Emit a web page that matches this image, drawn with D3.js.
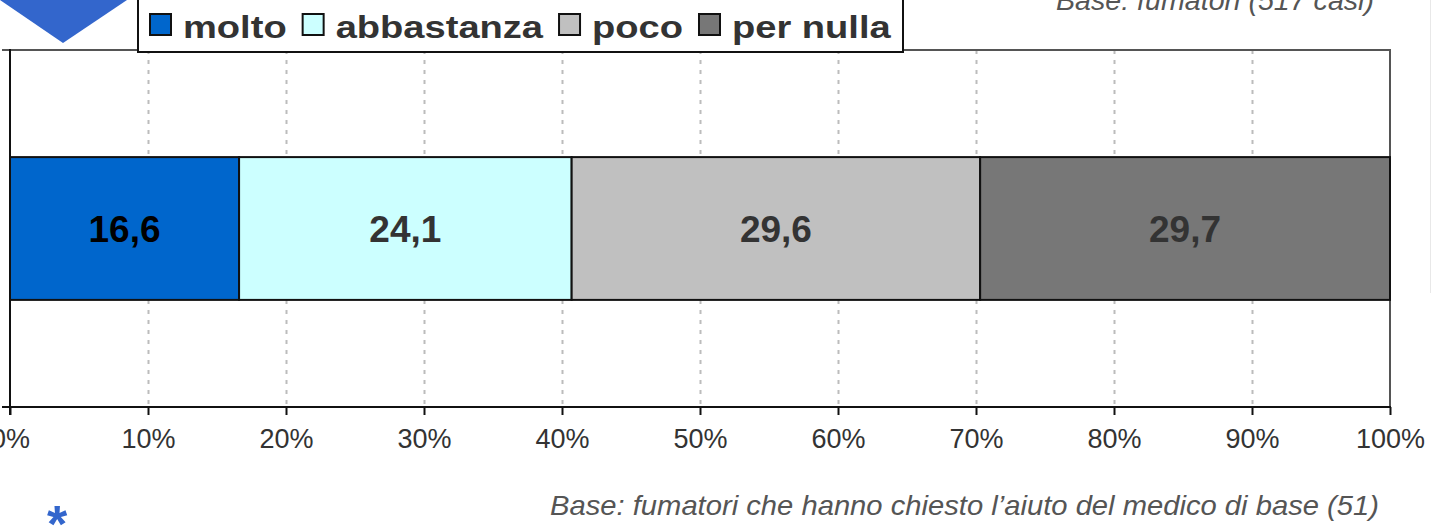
<!DOCTYPE html>
<html>
<head>
<meta charset="utf-8">
<script src="https://cdn.jsdelivr.net/npm/d3@7"></script>
<style>
  html, body { margin: 0; padding: 0; background: #fff; overflow: hidden; }
  svg { display: block; font-family: Arial, "Liberation Sans", sans-serif; }
</style>
</head>
<body>
<svg id="chart" width="1431" height="526"></svg>
<script>
// ---- data ----
const categories = ["fumatori"];
const seriesNames = ["molto", "abbastanza", "poco", "per nulla"];
const seriesValues = [16.6, 24.1, 29.6, 29.7];
const seriesColors = ["#0066CC", "#CCFFFF", "#C0C0C0", "#777777"];
const labelColors = ["#000000", "#333333", "#333333", "#333333"];
const tickValues = [0, 10, 20, 30, 40, 50, 60, 70, 80, 90, 100];
const topNote = "Base: fumatori (517 casi)";
const bottomNote = "Base: fumatori che hanno chiesto l\u2019aiuto del medico di base (51)";

(function () {
const svg = d3.select("#chart");
const pL = 10, pR = 1390, pT = 50, pB = 407;

const x = d3.scaleLinear().domain([0, 100]).range([pL, pR]);
const y = d3.scaleBand().domain(categories).range([pT, pB]).paddingInner(0).paddingOuter(0.75);

// blue triangle decoration top-left
svg.append("path")
  .attr("d", "M0,0 L127,0 L63,43 Z")
  .attr("fill", "#3366CC");

// faint right-edge line
svg.append("line")
  .attr("x1", 1430.5).attr("x2", 1430.5).attr("y1", 0).attr("y2", 293)
  .attr("stroke", "#e8e8e8").attr("stroke-width", 1);

// gridlines
svg.append("g").selectAll("line")
  .data(tickValues.filter(d => d > 0 && d < 100))
  .join("line")
  .attr("x1", d => Math.round(x(d)) + 0.5).attr("x2", d => Math.round(x(d)) + 0.5)
  .attr("y1", pT).attr("y2", pB)
  .attr("stroke", "#bcbcbc").attr("stroke-width", 2)
  .attr("stroke-dasharray", "4,6");

// plot border (top and right)
svg.append("path")
  .attr("d", `M${pL - 8},${pT} L${pR},${pT} L${pR},${pB}`)
  .attr("fill", "none").attr("stroke", "#555").attr("stroke-width", 2);

// bars
let cum = 0;
const stacked = seriesValues.map((v, i) => { const s = { name: seriesNames[i], x0: cum, x1: cum + v, v: v, i: i }; cum += v; return s; });

const barG = svg.append("g");
barG.selectAll("rect")
  .data(stacked)
  .join("rect")
  .attr("x", d => x(d.x0))
  .attr("width", d => x(d.x1) - x(d.x0))
  .attr("y", y(categories[0]))
  .attr("height", y.bandwidth())
  .attr("fill", d => seriesColors[d.i])
  .attr("stroke", "#111").attr("stroke-width", 2);

barG.selectAll("text")
  .data(stacked)
  .join("text")
  .attr("x", d => (x(d.x0) + x(d.x1)) / 2)
  .attr("y", y(categories[0]) + y.bandwidth() / 2 + 13)
  .attr("text-anchor", "middle")
  .attr("font-weight", "bold")
  .attr("font-size", 37)
  .attr("fill", d => labelColors[d.i])
  .text(d => d3.format(".1f")(d.v).replace(".", ","));

// x axis
const xAxis = d3.axisBottom(x)
  .tickValues(tickValues)
  .tickFormat(d => d + "%")
  .tickSize(8)
  .tickSizeOuter(0)
  .tickPadding(14);
const gx = svg.append("g").attr("transform", `translate(0,${pB})`).call(xAxis);
gx.select(".domain").remove();
gx.selectAll(".tick line").attr("stroke", "#111").attr("stroke-width", 2);
gx.selectAll(".tick text").attr("font-size", 27).attr("fill", "#333")
  .attr("font-family", "Arial, 'Liberation Sans', sans-serif");
svg.append("line")
  .attr("x1", pL - 8).attr("x2", pR + 1).attr("y1", pB).attr("y2", pB)
  .attr("stroke", "#111").attr("stroke-width", 2);

// y axis
svg.append("line")
  .attr("x1", pL).attr("x2", pL).attr("y1", pT - 1).attr("y2", pB + 8)
  .attr("stroke", "#111").attr("stroke-width", 2);

// legend
const lg = svg.append("g");
lg.append("rect")
  .attr("x", 138).attr("y", -6).attr("width", 765).attr("height", 58)
  .attr("fill", "#fff").attr("stroke", "#111").attr("stroke-width", 2);
let lx = 150;
seriesNames.forEach((name, i) => {
  lg.append("rect")
    .attr("x", lx).attr("y", 14).attr("width", 21).attr("height", 21)
    .attr("fill", seriesColors[i]).attr("stroke", "#111").attr("stroke-width", 2);
  const t = lg.append("text")
    .attr("x", lx + 33).attr("y", 38)
    .attr("font-size", 32).attr("font-weight", "bold").attr("fill", "#333")
    .text(name);
  const w = t.node().getComputedTextLength() * 1.19;
  t.attr("textLength", w).attr("lengthAdjust", "spacingAndGlyphs");
  lx += 33 + w + 16;
});

// notes
svg.append("text")
  .attr("x", 1374).attr("y", 10)
  .attr("text-anchor", "end")
  .attr("font-size", 28).attr("font-style", "italic").attr("fill", "#555")
  .attr("textLength", 318).attr("lengthAdjust", "spacingAndGlyphs")
  .text(topNote);

svg.append("text")
  .attr("x", 550).attr("y", 515)
  .attr("font-size", 28).attr("font-style", "italic").attr("fill", "#555")
  .attr("textLength", 829).attr("lengthAdjust", "spacingAndGlyphs")
  .text(bottomNote);

svg.append("text")
  .attr("x", 57).attr("y", 542)
  .attr("text-anchor", "middle")
  .attr("font-size", 52).attr("font-weight", "bold").attr("fill", "#3366CC")
  .text("*");
})();
</script>
</body>
</html>
